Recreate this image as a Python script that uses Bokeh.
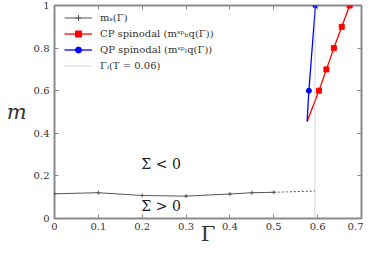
from bokeh.plotting import figure
from bokeh.models import (LinearAxis, Range1d, Legend, LegendItem, Label, FixedTicker,
                          CustomLabelingPolicy)
from bokeh.embed import file_html
from bokeh.resources import INLINE

# ---- data ----
ms_gamma = [0.0, 0.1, 0.2, 0.3, 0.4, 0.45, 0.5]
ms_m = [0.116, 0.121, 0.108, 0.105, 0.115, 0.121, 0.123]
ms_ext_gamma = [0.5, 0.594]
ms_ext_m = [0.123, 0.129]

cp_gamma = [0.576, 0.603, 0.620, 0.637, 0.655, 0.673]
cp_m = [0.455, 0.6, 0.7, 0.8, 0.9, 1.0]

qp_gamma = [0.576, 0.580, 0.595]
qp_m = [0.455, 0.6, 1.0]

gi_gamma = [0.594, 0.594]
gi_m = [0.0, 1.0]

x_ticks = [0.0, 0.1, 0.2, 0.3, 0.4, 0.5, 0.6, 0.7]
y_ticks = [0.0, 0.2, 0.4, 0.6, 0.8, 1.0]
x_tick_labels = {0.0: "0", 0.1: "0.1", 0.2: "0.2", 0.3: "0.3", 0.4: "0.4",
                 0.5: "0.5", 0.6: "0.6", 0.7: "0.7"}
y_tick_labels = {0.0: "0", 0.2: "0.2", 0.4: "0.4", 0.6: "0.6", 0.8: "0.8", 1.0: "1"}

legend_labels = ["mₛ(Γ)", "CP spinodal (mˢᵖₕq(Γ))", "QP spinodal (mˢᵖₗq(Γ))", "Γᵢ(T = 0.06)"]
region_labels = ["Σ < 0", "Σ > 0"]
region_gamma = [0.243, 0.243]
region_m = [0.258, 0.059]

SERIF = "DejaVu Serif"
FRAME = "#8a8a8a"
TXT = "#333333"

p = figure(width=363, height=248, output_backend="svg", toolbar_location=None,
           x_range=Range1d(0, 0.7), y_range=Range1d(0, 1),
           min_border_left=54, min_border_right=2, min_border_top=5, min_border_bottom=20)
p.xgrid.visible = False
p.ygrid.visible = False
p.outline_line_color = FRAME
p.outline_line_width = 2
p.background_fill_color = "white"
p.border_fill_color = "white"

for ax in (p.xaxis[0], p.yaxis[0]):
    ax.axis_line_color = None
    ax.major_tick_line_color = FRAME
    ax.major_tick_in = 4
    ax.major_tick_out = 0
    ax.minor_tick_line_color = None
    ax.major_label_text_font = SERIF
    ax.major_label_text_font_size = "10px"
    ax.major_label_text_color = TXT
    ax.axis_label_text_font = SERIF
    ax.axis_label_text_color = TXT

p.xaxis[0].ticker = FixedTicker(ticks=x_ticks)
p.xaxis[0].major_label_overrides = x_tick_labels
p.xaxis[0].major_label_standoff = 4
p.xaxis[0].axis_label = "Γ"
p.xaxis[0].axis_label_text_font_size = "21px"
p.xaxis[0].axis_label_text_font_style = "normal"
p.xaxis[0].axis_label_standoff = -11

p.yaxis[0].ticker = FixedTicker(ticks=y_ticks)
p.yaxis[0].major_label_overrides = y_tick_labels
p.yaxis[0].major_label_standoff = 5
p.yaxis[0].axis_label = "m"
p.yaxis[0].axis_label_orientation = "horizontal"
p.yaxis[0].axis_label_text_font_size = "21px"
p.yaxis[0].axis_label_text_font_style = "italic"
p.yaxis[0].axis_label_standoff = 4

# mirrored ticks on top and right (no labels)
hide_all = CustomLabelingPolicy(code="""
const idx = Array.from(indices);
for (const i of idx) { indices.unset(i); }
return indices;
""")
for loc, tks in (("above", x_ticks), ("right", y_ticks)):
    ax = LinearAxis(ticker=FixedTicker(ticks=tks))
    ax.axis_line_color = None
    ax.major_tick_line_color = FRAME
    ax.major_tick_in = 4
    ax.major_tick_out = 0
    ax.minor_tick_line_color = None
    ax.major_label_policy = hide_all
    ax.major_label_overrides = {t: "" for t in tks}
    ax.major_label_text_font_size = "0px"
    ax.major_label_standoff = 0
    p.add_layout(ax, loc)

# series
r_ms_line = p.line(ms_gamma, ms_m, line_color="#555555", line_width=1)
r_ms_pts = p.scatter(ms_gamma, ms_m, marker="cross", size=4, line_color="#555555", line_width=1)
r_ms_ext = p.line(ms_ext_gamma, ms_ext_m, line_color="#555555", line_width=1, line_dash="2 2")

r_cp_line = p.line(cp_gamma, cp_m, line_color="#ff0000", line_width=1.3)
r_cp_pts = p.scatter(cp_gamma[1:], cp_m[1:], marker="square", size=5,
                     fill_color="#ff0000", line_color="#ff0000")

r_qp_line = p.line(qp_gamma, qp_m, line_color="#0000ff", line_width=1.3)
r_qp_pts = p.scatter(qp_gamma[1:], qp_m[1:], marker="circle", size=5,
                     fill_color="#0000ff", line_color="#0000ff")

r_gi = p.line(gi_gamma, gi_m, line_color="#aaaaaa", line_width=1, line_dash="1 1")

for t, gx, my in zip(region_labels, region_gamma, region_m):
    p.add_layout(Label(x=gx, y=my, text=t, text_align="center", text_baseline="middle",
                       text_font=SERIF, text_font_size="14px", text_color="#222222"))

legend = Legend(items=[
    LegendItem(label=legend_labels[0], renderers=[r_ms_line, r_ms_pts]),
    LegendItem(label=legend_labels[1], renderers=[r_cp_line, r_cp_pts]),
    LegendItem(label=legend_labels[2], renderers=[r_qp_line, r_qp_pts]),
    LegendItem(label=legend_labels[3], renderers=[r_gi]),
], location=(10, 145))
legend.border_line_color = None
legend.background_fill_alpha = 0
legend.margin = 0
legend.padding = 3
legend.spacing = 1
legend.glyph_width = 28
legend.glyph_height = 15
legend.label_height = 15
legend.label_standoff = 8
legend.label_text_font = SERIF
legend.label_text_font_size = "10px"
legend.label_text_color = TXT
p.add_layout(legend, "center")

open("out.html", "w").write(file_html(p, INLINE))
